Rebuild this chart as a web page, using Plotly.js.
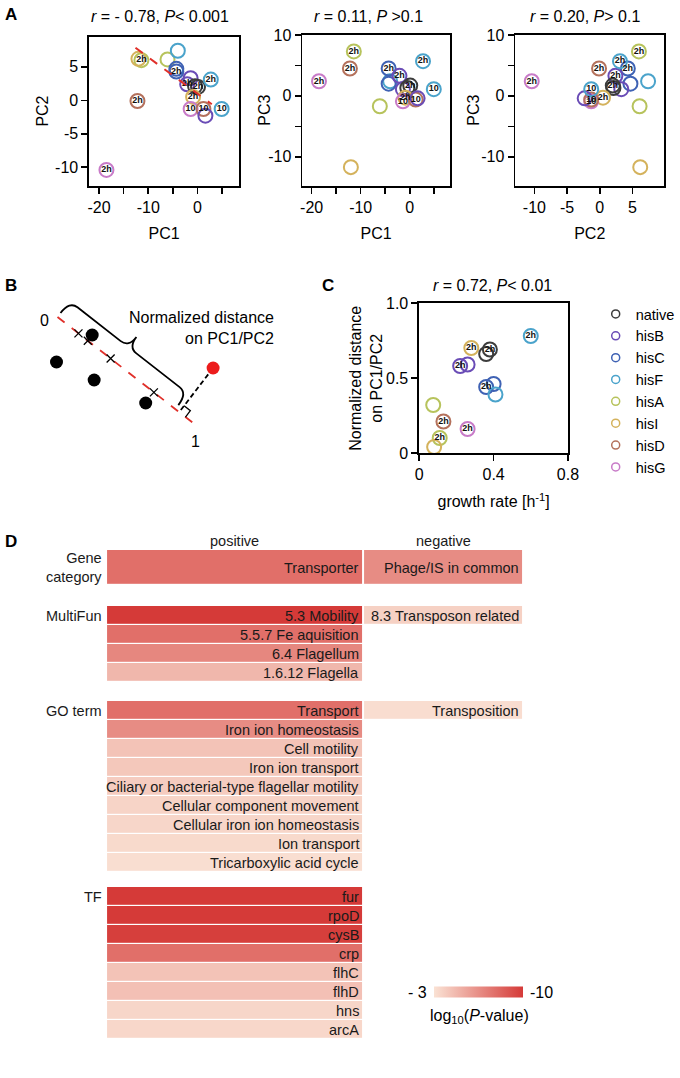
<!DOCTYPE html>
<html><head><meta charset="utf-8">
<script src="https://cdn.plot.ly/plotly-3.0.1.min.js"></script>
<style>html,body{margin:0;padding:0;background:#fff}#chart{width:680px;height:1078px}</style>
</head><body><div id="chart"></div>
<script>
// ================= DATA =================
// strains and colours (legend of panel C)
const strains = ['native','hisB','hisC','hisF','hisA','hisI','hisD','hisG'];
const strainColors = ['#3c3c3c','#6a4cb6','#3f62b4','#4aa3cb','#b7c35c','#d4b25c','#b4715c','#c87bc8'];

// Panel A: PCA scores of each sample
const pcStrain = ['hisG','hisD','hisA','hisI','hisA','hisF','hisC','hisC','hisB','hisB','native','native','hisF','hisI','hisG','hisD','hisB','hisF'];
const pcLabel  = ['2h','2h','2h','','','','2h','','2h','','','2h','2h','2h','10','10','','10'];
const pc1 = [-18.5,-12.2,-11.4,-12.0,-6.1,-4.0,-4.3,-4.3,-2.1,-1.4,-0.5,0.1,2.7,-0.9,-1.4,1.2,1.6,4.9];
const pc2 = [-10.4,-0.1,6.0,6.2,6.1,7.4,4.3,4.7,2.4,3.3,2.1,2.0,3.1,0.5,-1.3,-1.3,-2.3,-1.3];
const pc3 = [2.4,4.5,7.3,-11.7,-1.7,2.4,4.5,2.0,3.3,1.1,1.3,1.7,5.7,-0.3,-0.9,-0.6,-0.4,1.1];
// regression line in PC1/PC2
const fitPC1Range = [-12.6, 2.9];
const fitSlope = -0.545, fitIntercept = 0.98;
const pcTitles = ['<i>r</i> = - 0.78, <i>P</i>&lt; 0.001', '<i>r</i> = 0.11, <i>P</i> &gt;0.1', '<i>r</i> = 0.20, <i>P</i>&gt; 0.1'];

// Panel C: growth rate vs normalized distance
const growthStrain = ['hisF','hisI','native','native','hisB','hisB','hisC','hisC','hisF','hisA','hisD','hisG','hisA','hisI'];
const growthLabel  = ['2h','2h','2h','','2h','','2h','','','','2h','2h','2h',''];
const growthRate   = [0.60,0.28,0.38,0.36,0.22,0.26,0.36,0.40,0.41,0.075,0.13,0.26,0.11,0.08];
const normDist     = [0.78,0.70,0.69,0.66,0.58,0.59,0.44,0.46,0.39,0.32,0.21,0.16,0.10,0.04];

// Panel B: schematic (arbitrary schematic units)
const schemAxisX = [5.8, 20.0], schemAxisY = [14.3, 3.3];
const schemPtsX = [9.3, 5.7, 9.5, 14.7], schemPtsY = [12.5, 9.8, 8.0, 5.7];
const schemQueryX = [21.5], schemQueryY = [9.2];

// Panel D: enrichment, log10(P-value)
const geneCatPos = ['Transporter'], geneCatPosVal = [-7.8];
const geneCatNeg = ['Phage/IS in common'], geneCatNegVal = [-6.6];
const multiFunPos = ['5.3 Mobility','5.5.7 Fe aquisition','6.4 Flagellum','1.6.12 Flagella'];
const multiFunPosVal = [-10,-7.8,-6.8,-4.8];
const multiFunNeg = ['8.3 Transposon related'], multiFunNegVal = [-3.7];
const goPos = ['Transport','Iron ion homeostasis','Cell motility','Iron ion transport','Ciliary or bacterial-type flagellar motility','Cellular component movement','Cellular iron ion homeostasis','Ion transport','Tricarboxylic acid cycle'];
const goPosVal = [-7.8,-6.6,-4.3,-4.1,-3.9,-3.6,-3.5,-3.35,-3.15];
const goNeg = ['Transposition'], goNegVal = [-3.2];
const tfPos = ['fur','rpoD','cysB','crp','flhC','flhD','hns','arcA'];
const tfPosVal = [-10,-10,-9.8,-7.8,-4.3,-4.4,-3.5,-3.45];
const tfNeg = [], tfNegVal = [];
const dColumns = ['positive','negative'];

// ================= DRAWING =================
const W = 680, H = 1078;
const px = x => x / W, py = y => 1 - y / H;
const FONT = 'Arial, "Liberation Sans", Helvetica, sans-serif';
const colorOf = s => strainColors[strains.indexOf(s)];
const traces = [];
const annotations = [];
const shapes = [];
const ann = a => annotations.push(Object.assign({showarrow:false, xanchor:'center', yanchor:'middle'}, a));

// ---- Panel A ----
const pcPanels = [
  {xa:'x',  ya:'y',  xs:pc1, ys:pc2},
  {xa:'x2', ya:'y2', xs:pc1, ys:pc3},
  {xa:'x3', ya:'y3', xs:pc2, ys:pc3}
];
pcPanels.forEach(p => {
  traces.push({type:'scatter', mode:'markers+text', xaxis:p.xa, yaxis:p.ya, x:p.xs, y:p.ys,
    text:pcLabel, textposition:'middle center',
    textfont:{size:9, color:'#111', family:FONT, weight:'bold'},
    marker:{symbol:'circle-open', size:14, color:pcStrain.map(colorOf), line:{width:2}},
    showlegend:false, cliponaxis:false, hoverinfo:'skip'});
});
traces.push({type:'scatter', mode:'lines', xaxis:'x', yaxis:'y', x:fitPC1Range,
  y:fitPC1Range.map(v => fitSlope * v + fitIntercept),
  line:{color:'#e0302a', width:2, dash:'dash'}, showlegend:false, hoverinfo:'skip'});

// ---- Panel C ----
traces.push({type:'scatter', mode:'markers+text', xaxis:'x4', yaxis:'y4', x:growthRate, y:normDist,
  text:growthLabel, textposition:'middle center',
  textfont:{size:9, color:'#111', family:FONT, weight:'bold'},
  marker:{symbol:'circle-open', size:14, color:growthStrain.map(colorOf), line:{width:2}},
  showlegend:false, cliponaxis:false, hoverinfo:'skip'});
strains.forEach((s, i) => traces.push({type:'scatter', mode:'markers', xaxis:'x4', yaxis:'y4',
  x:[null], y:[null], name:s,
  marker:{symbol:'circle-open', size:8, color:strainColors[i], line:{width:1.5}}, showlegend:true}));

// ---- Panel B (schematic) ----
const dx = schemAxisX[1] - schemAxisX[0], dy = schemAxisY[1] - schemAxisY[0];
const L = Math.hypot(dx, dy);
const d = [dx / L, dy / L], n = [-d[1], d[0]];
const P = (t, o) => [schemAxisX[0] + d[0] * t + n[0] * o, schemAxisY[0] + d[1] * t + n[1] * o];
const proj = (x, y) => (x - schemAxisX[0]) * d[0] + (y - schemAxisY[0]) * d[1];
const ptT = schemPtsX.map((x, i) => proj(x, schemPtsY[i]));
const qT = proj(schemQueryX[0], schemQueryY[0]);
const qFoot = P(qT, 0);
traces.push({type:'scatter', mode:'lines', xaxis:'x5', yaxis:'y5', x:schemAxisX, y:schemAxisY,
  line:{color:'#e0302a', width:1.8, dash:'dash'}, showlegend:false, hoverinfo:'skip'});
traces.push({type:'scatter', mode:'markers', xaxis:'x5', yaxis:'y5',
  x:ptT.map(t => P(t, 0)[0]), y:ptT.map(t => P(t, 0)[1]),
  marker:{symbol:'x-thin-open', size:8, color:'#000', line:{width:1.3, color:'#000'}}, showlegend:false, hoverinfo:'skip'});
traces.push({type:'scatter', mode:'lines', xaxis:'x5', yaxis:'y5', x:[schemQueryX[0], qFoot[0]], y:[schemQueryY[0], qFoot[1]],
  line:{color:'#000', width:1.8, dash:'5px,3px'}, showlegend:false, hoverinfo:'skip'});
traces.push({type:'scatter', mode:'markers', xaxis:'x5', yaxis:'y5', x:schemPtsX, y:schemPtsY,
  marker:{size:13, color:'#000'}, showlegend:false, hoverinfo:'skip'});
traces.push({type:'scatter', mode:'markers', xaxis:'x5', yaxis:'y5', x:schemQueryX, y:schemQueryY,
  marker:{size:13, color:'#ec1c1c'}, showlegend:false, hoverinfo:'skip'});
// right angle mark
const s = 0.8;
const ra = [P(qT + s, 0), P(qT + s, s), P(qT, s)];
shapes.push({type:'path', xref:'x5', yref:'y5', line:{color:'#000', width:1.3},
  path:'M' + ra.map(p => p[0].toFixed(3) + ',' + p[1].toFixed(3)).join(' L')});
// curly brace from 0 to projection of query point
const bEnd = qT - 0.5;
const h0 = 0.5, hb = 2.0, tip = 3.3, r = 1.0, mid = bEnd / 2;
const f = p => p[0].toFixed(3) + ',' + p[1].toFixed(3);
const brace = 'M' + f(P(0, h0)) + ' Q' + f(P(0, hb)) + ' ' + f(P(r, hb)) +
  ' L' + f(P(mid - r, hb)) + ' Q' + f(P(mid, hb)) + ' ' + f(P(mid, tip)) +
  ' Q' + f(P(mid, hb)) + ' ' + f(P(mid + r, hb)) +
  ' L' + f(P(bEnd - r, hb)) + ' Q' + f(P(bEnd, hb)) + ' ' + f(P(bEnd, h0));
shapes.push({type:'path', xref:'x5', yref:'y5', line:{color:'#000', width:1.8}, path:brace});
ann({xref:'x5', yref:'y5', x:schemAxisX[0], y:schemAxisY[0], text:'0',
  xshift:-13, yshift:-3, font:{size:16, color:'#000'}});
ann({xref:'x5', yref:'y5', x:schemAxisX[1], y:schemAxisY[1], text:'1',
  xshift:-3, yshift:-14, font:{size:16, color:'#000'}});
ann({xref:'paper', yref:'paper', x:px(278), y:py(328), xanchor:'right', align:'right',
  text:'Normalized distance<br>on PC1/PC2', font:{size:16, color:'#000'}});

// ---- Panel D ----
const dGroups = [
  {label:'Gene<br>category', pos:geneCatPos, posVal:geneCatPosVal, neg:geneCatNeg, negVal:geneCatNegVal, top:550, bottom:585},
  {label:'MultiFun', pos:multiFunPos, posVal:multiFunPosVal, neg:multiFunNeg, negVal:multiFunNegVal, top:606, bottom:682},
  {label:'GO term', pos:goPos, posVal:goPosVal, neg:goNeg, negVal:goNegVal, top:701, bottom:872},
  {label:'TF', pos:tfPos, posVal:tfPosVal, neg:tfNeg, negVal:tfNegVal, top:887, bottom:1039}
];
const colEdges = [0, 259, 421];
const dYAxes = {};
dGroups.forEach((g, k) => {
  const ya = 'y' + (6 + k);
  const nRows = g.pos.length;
  const rows = g.pos.map((_, i) => i);
  const z = rows.map(i => [-g.posVal[i], (g.negVal[i] != null) ? -g.negVal[i] : null]);
  traces.push({type:'heatmap', xaxis:'x6', yaxis:ya, x:colEdges, y:rows, z:z,
    coloraxis:'coloraxis', xgap:2, ygap:1.2, hoverinfo:'skip'});
  rows.forEach(i => {
    ann({xref:'x6', yref:ya, x:colEdges[1] - 2, y:i, xanchor:'right',
      text:g.pos[i], font:{size:14.5, color:'#1a1a1a'}});
    if (g.neg[i] != null) ann({xref:'x6', yref:ya, x:colEdges[2] - 2, y:i, xanchor:'right',
      text:g.neg[i], font:{size:14.5, color:'#1a1a1a'}});
  });
  const labelY = nRows === 1 ? (g.top + g.bottom) / 2 : g.top + (g.bottom - g.top) / nRows / 2;
  ann({xref:'paper', yref:'paper', x:px(105), y:py(labelY), xanchor:'right', align:'right',
    text:g.label, font:{size:14.5, color:'#1a1a1a'}});
  dYAxes['yaxis' + (6 + k)] = {domain:[py(g.bottom), py(g.top)], range:[nRows - 0.5, -0.5], anchor:'x6',
    visible:false, fixedrange:true};
});
dColumns.forEach((c, j) => ann({xref:'x6', yref:'paper', x:(colEdges[j] + colEdges[j + 1]) / 2, y:py(541),
  text:c, font:{size:14.5, color:'#1a1a1a'}}));
// colour bar labels
ann({xref:'paper', yref:'paper', x:px(421), y:py(992), text:'- 3', font:{size:16, color:'#000'}});
ann({xref:'paper', yref:'paper', x:px(546), y:py(992), text:'-10', font:{size:16, color:'#000'}});
ann({xref:'paper', yref:'paper', x:px(484), y:py(1016), text:'log<sub>10</sub>(<i>P</i>-value)', font:{size:16, color:'#000'}});

// ---- titles, y-axis titles & panel letters ----
[[161, pcTitles[0]], [372, pcTitles[1]], [590, pcTitles[2]]].forEach(([x, t]) =>
  ann({xref:'paper', yref:'paper', x:px(x), y:py(17), text:t, font:{size:16, color:'#000'}}));
ann({xref:'paper', yref:'paper', x:px(497), y:py(285), text:'<i>r</i> = 0.72, <i>P</i>&lt; 0.01', font:{size:16, color:'#000'}});
[['PC2', 43, 111], ['PC3', 266, 110], ['PC3', 477, 110]].forEach(([t, x, y]) =>
  ann({xref:'paper', yref:'paper', x:px(x), y:py(y), text:t, textangle:-90, font:{size:16, color:'#000'}}));
ann({xref:'paper', yref:'paper', x:px(369), y:py(378), text:'Normalized distance<br>on PC1/PC2', textangle:-90, font:{size:16, color:'#000'}});
[['A', 11, 14], ['B', 11, 285], ['C', 331, 285], ['D', 11, 541]].forEach(([t, x, y]) =>
  ann({xref:'paper', yref:'paper', x:px(x), y:py(y), text:'<b>' + t + '</b>', font:{size:17, color:'#000'}}));

// ---- axes ----
function ax(extra) {
  return Object.assign({showline:true, mirror:true, linecolor:'#000', linewidth:1.8, ticks:'outside', ticklen:6,
    tickwidth:1.6, tickcolor:'#000', zeroline:false, showgrid:false, automargin:false, fixedrange:true,
    tickfont:{size:16, color:'#000'}}, extra);
}
const ttl = (t, so) => ({text:t, font:{size:16, color:'#000'}, standoff:so});
const layout = Object.assign({
  width:W, height:H, margin:{l:0, r:0, t:0, b:0}, paper_bgcolor:'#fff', plot_bgcolor:'rgba(0,0,0,0)',
  font:{family:FONT, color:'#000'}, hovermode:false,
  xaxis: ax({domain:[px(90), px(241)], range:[-22, 8.4], anchor:'y', tickvals:[-20,-15,-10,-5,0,5], ticktext:['-20','','-10','','0',''], title:ttl('PC1', 13)}),
  yaxis: ax({domain:[py(186), py(36.7)], range:[-12.8, 9.5], anchor:'x', tickvals:[-10,-5,0,5], ticktext:['-10','-5','0','5']}),
  xaxis2: ax({domain:[px(305), px(454)], range:[-21.9, 8.2], anchor:'y2', tickvals:[-20,-15,-10,-5,0,5], ticktext:['-20','','-10','','0',''], title:ttl('PC1', 13)}),
  yaxis2: ax({domain:[py(186), py(35)], range:[-14.8, 10], anchor:'x2', tickvals:[-10,-5,0,5,10], ticktext:['-10','','0','','10']}),
  xaxis3: ax({domain:[px(520), px(670)], range:[-12.9, 9.85], anchor:'y3', tickvals:[-10,-5,0,5], ticktext:['-10','-5','0','5'], title:ttl('PC2', 13)}),
  yaxis3: ax({domain:[py(186), py(35)], range:[-14.8, 10], anchor:'x3', tickvals:[-10,-5,0,5,10], ticktext:['-10','','0','','10']}),
  xaxis4: ax({domain:[px(423), px(573)], range:[0, 0.8], anchor:'y4', tickvals:[0,0.4,0.8], ticktext:['0','0.4','0.8'], title:ttl('growth rate [h<sup>-1</sup>]', 14)}),
  yaxis4: ax({domain:[py(453), py(303)], range:[0, 1], anchor:'x4', tickvals:[0,0.5,1], ticktext:['0','0.5','1.0']}),
  xaxis5: {domain:[0, px(300)], range:[0, 30], anchor:'y5', visible:false, fixedrange:true},
  yaxis5: {domain:[py(460), py(290)], range:[0, 17], anchor:'x5', visible:false, fixedrange:true},
  xaxis6: {domain:[px(107), px(528)], range:[0, 421], anchor:'y6', visible:false, fixedrange:true},
  coloraxis: {cmin:3, cmax:10, colorscale:[[0,'rgb(250,226,212)'],[1,'rgb(213,58,56)']],
    colorbar:{orientation:'h', x:px(483), xanchor:'center', y:py(992), yanchor:'middle', len:89, lenmode:'pixels',
      thickness:11, thicknessmode:'pixels', showticklabels:false, ticks:'', outlinewidth:0, xpad:0, ypad:0}},
  showlegend:true,
  legend:{x:px(601), y:py(298), xanchor:'left', yanchor:'top', font:{size:14.5, color:'#000'}, bgcolor:'rgba(0,0,0,0)',
    itemwidth:30, tracegroupgap:0, borderwidth:0},
  annotations: annotations, shapes: shapes
}, dYAxes);

Plotly.newPlot('chart', traces, layout, {displayModeBar:false, staticPlot:true});
</script></body></html>
